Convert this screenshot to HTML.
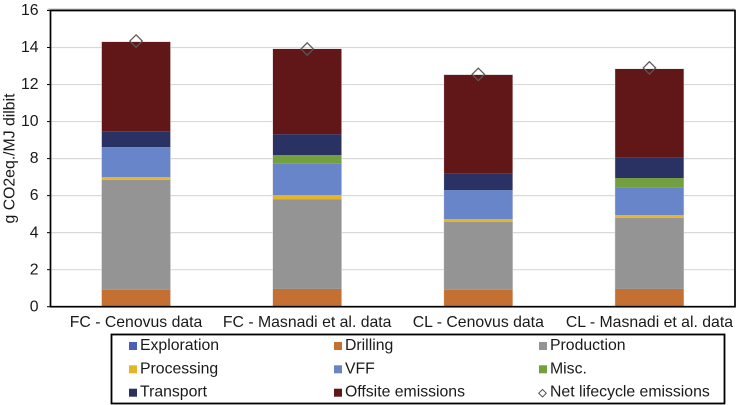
<!DOCTYPE html>
<html>
<head>
<meta charset="utf-8">
<style>
html,body{margin:0;padding:0;background:#fff;width:736px;height:405px;overflow:hidden}
svg{display:block}
text{font-family:"Liberation Sans",sans-serif;fill:#1a1a1a}
</style>
</head>
<body>
<svg id="chart" width="736" height="405" viewBox="0 0 736 405" xmlns="http://www.w3.org/2000/svg"></svg>
<script>
const categories = ['FC - Cenovus data', 'FC - Masnadi et al. data', 'CL - Cenovus data', 'CL - Masnadi et al. data'];
const seriesNames = ['Exploration', 'Drilling', 'Production', 'Processing', 'VFF', 'Misc.', 'Transport', 'Offsite emissions'];
const exploration = [0.01, 0.01, 0.01, 0.01];
const drilling = [0.91, 0.95, 0.91, 0.95];
const production = [5.93, 4.85, 3.67, 3.84];
const processing = [0.15, 0.22, 0.14, 0.15];
const vff = [1.62, 1.69, 1.57, 1.47];
const misc = [0, 0.47, 0, 0.53];
const transport = [0.86, 1.13, 0.88, 1.13];
const offsite = [4.82, 4.60, 5.34, 4.76];
const netLifecycle = [14.35, 13.92, 12.55, 12.9];
const yTicks = [0, 2, 4, 6, 8, 10, 12, 14, 16];
const legendLabels = ['Exploration', 'Drilling', 'Production', 'Processing', 'VFF', 'Misc.', 'Transport', 'Offsite emissions', 'Net lifecycle emissions'];

const allSeries = [exploration, drilling, production, processing, vff, misc, transport, offsite];
const colors = ['#4a5fb5', '#c47032', '#949494', '#e6b428', '#6985c9', '#72a03f', '#2a3263', '#611617'];
const svg = document.getElementById('chart');
const NS = 'http://www.w3.org/2000/svg';
const plotL = 50.5, plotR = 735, plotT = 10.5, plotB = 306.7;
const yMax = 16;
function yScale(v) { return plotB - (v / yMax) * (plotB - plotT); }
function xBand(i) { return plotL + (i + 0.5) * (plotR - plotL) / categories.length; }
const barW = 0.4 * (plotR - plotL) / categories.length;
function mk(tag, attrs, parent) {
  const e = document.createElementNS(NS, tag);
  for (const k in attrs) e.setAttribute(k, attrs[k]);
  (parent || svg).appendChild(e);
  return e;
}

// top shadow line
const topShade = mk('line', {x1: plotL - 3, x2: plotR, y1: plotT - 1.4, y2: plotT - 1.4, stroke: '#a8a8a8', 'stroke-width': 1});



// gridlines
yTicks.forEach(function (t) {
  if (t === 0 || t === yMax) return;
  const g = mk('line', {x1: plotL, x2: plotR, y1: yScale(t), y2: yScale(t), stroke: '#d9d9d9', 'stroke-width': 1.2});
  
  
});

// bars
categories.forEach(function (c, i) {
  const total = allSeries.reduce(function (sum, s) { return sum + s[i]; }, 0);
  const halo = mk('rect', {x: xBand(i) - barW / 2, y: yScale(total), width: barW, height: yScale(0) - yScale(total), fill: 'none', stroke: '#e4dcdc', 'stroke-width': 1});
  
  
  let acc = 0;
  allSeries.forEach(function (s, k) {
    const v = s[i];
    if (v <= 0) return;
    const y1 = yScale(acc + v), y0 = yScale(acc);
    const r = mk('rect', {x: xBand(i) - barW / 2, y: y1, width: barW, height: y0 - y1, fill: colors[k]});
    
    
    acc += v;
  });
});

// frame
const frame = mk('rect', {x: plotL, y: plotT, width: plotR - plotL, height: plotB - plotT, fill: 'none', stroke: '#000', 'stroke-width': 1.7});



// y ticks and labels
yTicks.forEach(function (t) {
  const y = yScale(t);
  const tk = mk('line', {x1: plotL - 3.5, x2: plotL, y1: y, y2: y, stroke: '#000', 'stroke-width': 1});
  
  
  const l = mk('text', {x: 38.6, y: y + 4.6, 'text-anchor': 'end', 'font-size': 15.8});
  l.textContent = t;
  
  
});

// x labels
categories.forEach(function (c, i) {
  const l = mk('text', {x: xBand(i), y: 326.8, 'text-anchor': 'middle', 'font-size': 15.8});
  l.textContent = c;
  
  
});

// y title
const yt = mk('text', {transform: 'translate(14.5,158.5) rotate(-90)', 'text-anchor': 'middle', 'font-size': 15.8});
yt.textContent = 'g CO2eq./MJ dilbit';



// diamonds
function diamond(cx, cy, r, sw, stroke, parent) {
  return mk('polygon', {points: [cx, cy - r, cx + r, cy, cx, cy + r, cx - r, cy].join(','), fill: 'none', stroke: stroke, 'stroke-width': sw}, parent);
}
netLifecycle.forEach(function (v, i) {
  const d = diamond(xBand(i), yScale(v), 6.2, 1.25, '#5a5a5a');
  
  
});

// legend
const legend = mk('g', {});


const box = mk('rect', {x: 111.5, y: 334.5, width: 613, height: 69, fill: '#fff', stroke: '#000', 'stroke-width': 1.8}, legend);


const colSwatch = [129, 334, 539];
const rowBase = [350, 373.3, 396.7];
legendLabels.forEach(function (name, idx) {
  const col = idx % 3, row = Math.floor(idx / 3);
  const g = mk('g', {}, legend);
  
  
  const sx = colSwatch[col], base = rowBase[row];
  if (idx < colors.length) {
    mk('rect', {x: sx, y: base - 8, width: 8, height: 8, fill: colors[idx]}, g);
  } else {
    diamond(sx + 3.5, base - 3.5, 3.8, 0.9, '#444', g);
  }
  const t = mk('text', {x: sx + 11, y: base, 'font-size': 15.8}, g);
  t.textContent = name;
});
</script>
</body>
</html>
